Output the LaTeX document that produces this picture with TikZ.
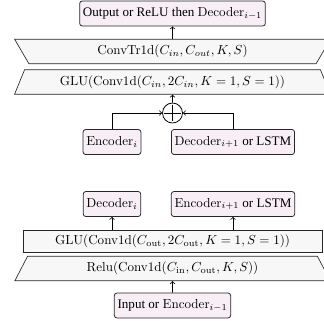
\documentclass[tikz,border=0pt]{standalone}
\usepackage{amsmath}
\usepackage[no-math]{fontspec}
\setmainfont{Liberation Serif}
\usetikzlibrary{shapes.geometric,positioning}
\definecolor{boxfill}{HTML}{F8EFF6}
\definecolor{layerfill}{HTML}{F7F7F7}
\tikzset{
  iobox/.style={draw=black!85, line width=0.6pt, fill=boxfill, rounded corners=2pt, minimum height=19.1pt, inner xsep=2.5pt},
  layer/.style={draw=black!85, line width=0.5pt, fill=layerfill, trapezium, trapezium stretches=true,
    trapezium left angle=70, trapezium right angle=70, minimum height=18.8pt, minimum width=241.7pt},
  flatlayer/.style={draw=black!85, line width=0.5pt, fill=layerfill, minimum height=16.8pt, minimum width=228.7pt},
  sumnode/.style={draw, line width=0.6pt, circle, minimum size=15.3pt, inner sep=0pt},
  conn/.style={->, line width=0.6pt}
}

\begin{document}
\begin{tikzpicture}[x=0.765pt, y=-0.765pt]
    \useasboundingbox (0,0) rectangle (324,320);
    \clip (0,0) rectangle (324,320);
    % Decoder block
        \node[iobox] (out) at (172.5,13.5) {Output or ReLU then $\mathrm{Decoder}_{i-1}$};
        \node[layer, shape border rotate=180] (convtr) at (172.5,51.5) {$\mathrm{ConvTr1d}(C_{in}, C_{out}, K, S)$};
        \node[layer] (glua) at (172.5,82) {$\mathrm{GLU}(\mathrm{Conv1d}(C_{in}, 2C_{in}, K=1, S=1))$};
        \node[sumnode] (plus) at (172.5,113) {};
        \draw[line width=0.6pt] ([yshift=-1.5pt]plus.north) -- ([yshift=1.5pt]plus.south)
            ([xshift=1.5pt]plus.west) -- ([xshift=-1.5pt]plus.east);
        \node[iobox] (enca) at (112,142) {$\mathrm{Encoder}_i$};
        \node[iobox] (deca) at (233,142) {$\mathrm{Decoder}_{i+1}$ or LSTM};
        % Arrows of the decoder
        \draw[conn] (convtr.north) -- (out.south);
        \draw[conn] (plus.north) -- (glua.south);
        \draw[conn] (enca.north) |- (plus.west);
        \draw[conn] (deca.north) |- (plus.east);
    % Encoder block
        \node[iobox] (decb) at (112,204) {$\mathrm{Decoder}_i$};
        \node[iobox] (encb) at (233,204) {$\mathrm{Encoder}_{i+1}$ or LSTM};
        \node[flatlayer] (glub) at (172.5,241) {$\mathrm{GLU}(\mathrm{Conv1d}(C_\mathrm{out}, 2C_\mathrm{out}, K=1, S=1))$};
        \node[layer] (relu) at (172.5,268.5) {$\mathrm{Relu}(\mathrm{Conv1d}(C_\mathrm{in}, C_\mathrm{out}, K, S))$};
        \node[iobox] (inp) at (172.5,305.5) {Input or $\mathrm{Encoder}_{i-1}$};
        % Arrows of the encoder
        \draw[conn] (inp.north) -- (relu.south);
        \draw[conn] (decb.south |- glub.north) -- (decb.south);
        \draw[conn] (encb.south |- glub.north) -- (encb.south);
\end{tikzpicture}
\end{document}
